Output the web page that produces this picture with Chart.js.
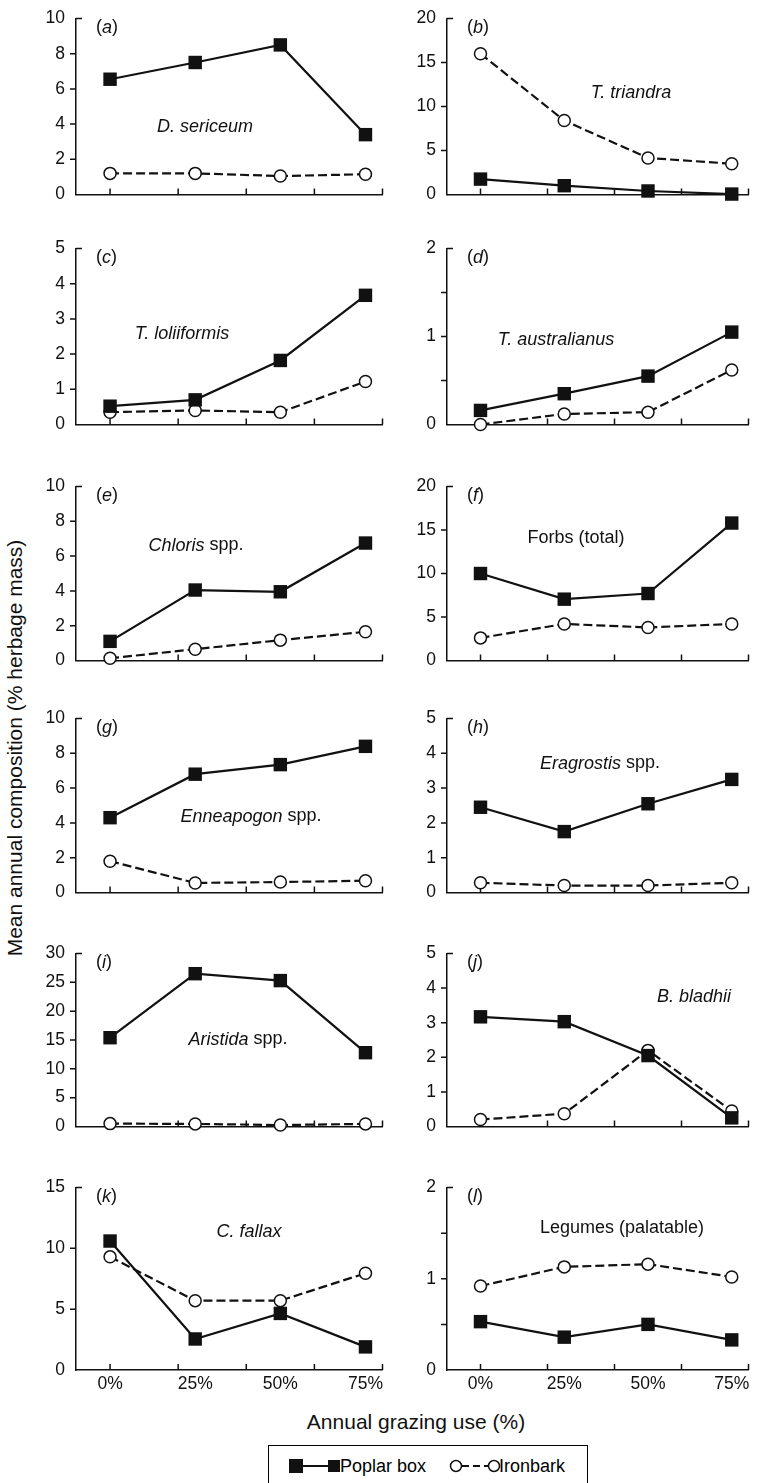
<!DOCTYPE html>
<html>
<head>
<meta charset="utf-8">
<script src="https://cdn.jsdelivr.net/npm/chart.js@4.4.0/dist/chart.umd.min.js"></script>
<style>
  body { margin: 0; background: #fff; font-family: 'Liberation Sans', Arial, sans-serif; color: #111; }
  #fig { position: relative; width: 758px; height: 1483px; overflow: hidden; }
  #fig canvas { position: absolute; }
  .ytitle { position: absolute; left: 15px; top: 748px; transform: translate(-50%, -50%) rotate(-90deg); white-space: nowrap; font-size: 21px; }
  .xtitle { position: absolute; left: 416px; top: 1422px; transform: translate(-50%, -50%); white-space: nowrap; font-size: 21px; }
  .legend { position: absolute; left: 268px; top: 1445px; width: 318px; height: 37px; border: 1px solid #000; }
</style>
</head>
<body>
<div id="fig">
  <div class="ytitle">Mean annual composition (% herbage mass)</div>
  <div class="xtitle">Annual grazing use (%)</div>
  <div class="legend">
    <svg width="318" height="37">
      <line x1="27" y1="20" x2="65" y2="20" stroke="#111" stroke-width="2.2"/>
      <rect x="20" y="13" width="14" height="14" fill="#111"/>
      <rect x="59" y="14" width="12" height="12" fill="#111"/>
      <text x="71" y="20" font-size="18" dominant-baseline="central" font-family="Liberation Sans, Arial">Poplar box</text>
      <line x1="193" y1="20" x2="219" y2="20" stroke="#111" stroke-width="2.2" stroke-dasharray="7,4"/>
      <circle cx="187" cy="20" r="5.5" fill="#fff" stroke="#111" stroke-width="1.5"/>
      <circle cx="225" cy="20" r="5.5" fill="#fff" stroke="#111" stroke-width="1.5"/>
      <text x="230" y="20" font-size="18" dominant-baseline="central" font-family="Liberation Sans, Arial">Ironbark</text>
    </svg>
  </div>
</div>
<script>
// Grazing levels (x values) and tick labels
const grazing = [0, 25, 50, 75];
const grazingLabels = ['0%', '25%', '50%', '75%'];
const xTickMarks = [0, 20, 40, 60, 80];

// Poplar box series, one per panel
const poplarA = [6.55, 7.5, 8.5, 3.4];
const poplarB = [1.75, 1.0, 0.4, 0.05];
const poplarC = [0.52, 0.7, 1.82, 3.67];
const poplarD = [0.16, 0.35, 0.55, 1.05];
const poplarE = [1.1, 4.05, 3.95, 6.75];
const poplarF = [10, 7.05, 7.7, 15.8];
const poplarG = [4.3, 6.8, 7.35, 8.4];
const poplarH = [2.45, 1.75, 2.55, 3.25];
const poplarI = [15.4, 26.5, 25.3, 12.8];
const poplarJ = [3.17, 3.03, 2.05, 0.25];
const poplarK = [10.6, 2.55, 4.65, 1.9];
const poplarL = [0.53, 0.36, 0.5, 0.33];

// Ironbark series, one per panel
const ironbarkA = [1.2, 1.2, 1.05, 1.15];
const ironbarkB = [16, 8.4, 4.15, 3.5];
const ironbarkC = [0.35, 0.4, 0.35, 1.22];
const ironbarkD = [0.0, 0.12, 0.14, 0.62];
const ironbarkE = [0.13, 0.65, 1.17, 1.65];
const ironbarkF = [2.6, 4.2, 3.8, 4.2];
const ironbarkG = [1.8, 0.55, 0.6, 0.68];
const ironbarkH = [0.28, 0.2, 0.2, 0.28];
const ironbarkI = [0.5, 0.45, 0.25, 0.45];
const ironbarkJ = [0.2, 0.37, 2.2, 0.45];
const ironbarkK = [9.3, 5.7, 5.7, 7.95];
const ironbarkL = [0.92, 1.13, 1.16, 1.02];

const poplar = [poplarA, poplarB, poplarC, poplarD, poplarE, poplarF, poplarG, poplarH, poplarI, poplarJ, poplarK, poplarL];
const ironbark = [ironbarkA, ironbarkB, ironbarkC, ironbarkD, ironbarkE, ironbarkF, ironbarkG, ironbarkH, ironbarkI, ironbarkJ, ironbarkK, ironbarkL];

// Y axis ranges
const yMax = [10, 20, 5, 2, 10, 20, 10, 5, 30, 5, 15, 2];
const yStep = [2, 5, 1, 0.5, 2, 5, 2, 1, 5, 1, 5, 0.5];

// Panel letters and species names ([text, italic])
const letters = ['a', 'b', 'c', 'd', 'e', 'f', 'g', 'h', 'i', 'j', 'k', 'l'];
const species = [
    [['D. sericeum', true]],
    [['T. triandra', true]],
    [['T. loliiformis', true]],
    [['T. australianus', true]],
    [['Chloris', true], [' spp.', false]],
    [['Forbs (total)', false]],
    [['Enneapogon', true], [' spp.', false]],
    [['Eragrostis', true], [' spp.', false]],
    [['Aristida', true], [' spp.', false]],
    [['B. bladhii', true]],
    [['C. fallax', true]],
    [['Legumes (palatable)', false]]
];

// Layout: chart area rows (top, bottom) and species label offsets
const rows = [[15, 202], [245, 432], [483, 668], [715, 900], [950, 1134], [1184, 1370]];
const labelOffsets = [[129, 108], [184, 74], [106, 85], [109, 91], [120, 59], [129, 52],
    [175, 98], [153, 45], [162, 86], [247, 43], [173, 44], [175, 41]];

const FONT = '"Liberation Sans", Arial, sans-serif';

function drawParts(ctx, parts, cx, cy) {
    let total = 0;
    parts.forEach(p => {
        ctx.font = (p[1] ? 'italic ' : '') + '18px ' + FONT;
        total += ctx.measureText(p[0]).width;
    });
    let x = cx - total / 2;
    parts.forEach(p => {
        ctx.font = (p[1] ? 'italic ' : '') + '18px ' + FONT;
        ctx.fillText(p[0], x, cy);
        x += ctx.measureText(p[0]).width;
    });
}

// Tick marks (inside on x, outside on y) and panel texts
const decor = {
    id: 'decor',
    beforeDatasetsDraw(chart, args, opts) {
        const { ctx, chartArea } = chart;
        const x = chart.scales.x, y = chart.scales.y;
        ctx.save();
        ctx.strokeStyle = '#111';
        ctx.lineWidth = 1.5;
        ctx.beginPath();
        xTickMarks.forEach(v => {
            const px = x.getPixelForValue(v);
            ctx.moveTo(px, chartArea.bottom);
            ctx.lineTo(px, chartArea.bottom - 6);
        });
        y.ticks.forEach(t => {
            if (t.value === 0) return;
            const py = y.getPixelForValue(t.value);
            if (t.value === y.max) {
                ctx.moveTo(chartArea.left, py);
                ctx.lineTo(chartArea.left + 6, py);
            } else {
                ctx.moveTo(chartArea.left - 6, py);
                ctx.lineTo(chartArea.left, py);
            }
        });
        ctx.stroke();

        ctx.fillStyle = '#111';
        ctx.textBaseline = 'middle';
        ctx.textAlign = 'left';
        // panel letter like (a)
        let lx = chartArea.left + 20, ly = chartArea.top + 9;
        [['(', false], [opts.letter, true], [')', false]].forEach(p => {
            ctx.font = (p[1] ? 'italic ' : '') + '18px ' + FONT;
            ctx.fillText(p[0], lx, ly);
            lx += ctx.measureText(p[0]).width;
        });
        drawParts(ctx, opts.species, chartArea.left + opts.off[0], chartArea.top + opts.off[1]);
        ctx.restore();
    }
};

const fig = document.getElementById('fig');

letters.forEach((letter, i) => {
    const col = i % 2;
    const row = Math.floor(i / 2);
    const bottomRow = row === rows.length - 1;
    const [top, bottom] = rows[row];
    const canvasLeft = col === 0 ? 0 : 378;
    const canvasWidth = col === 0 ? 392 : 380;
    const yAxisWidth = col === 0 ? 76 : 69;
    const padRight = col === 0 ? 9 : 1;
    const xAxisHeight = bottomRow ? 30 : 0;
    const padBottom = 8;
    const canvasTop = top - 12;
    const canvasHeight = (bottom - top) + 12 + xAxisHeight + padBottom;

    const canvas = document.createElement('canvas');
    canvas.width = canvasWidth;
    canvas.height = canvasHeight;
    canvas.style.left = canvasLeft + 'px';
    canvas.style.top = canvasTop + 'px';
    fig.appendChild(canvas);

    new Chart(canvas.getContext('2d'), {
        type: 'line',
        data: {
            datasets: [{
                label: 'Poplar box',
                data: grazing.map((g, k) => ({ x: g, y: poplar[i][k] })),
                borderColor: '#111',
                backgroundColor: '#111',
                borderWidth: 2.2,
                pointStyle: 'rect',
                pointRadius: 9.5,
                pointBorderWidth: 0,
                pointBackgroundColor: '#111',
                tension: 0,
                clip: false
            }, {
                label: 'Ironbark',
                data: grazing.map((g, k) => ({ x: g, y: ironbark[i][k] })),
                borderColor: '#111',
                borderWidth: 2.2,
                borderDash: [9, 4],
                pointStyle: 'circle',
                pointRadius: 6,
                pointBorderWidth: 1.5,
                pointBorderColor: '#111',
                pointBackgroundColor: '#fff',
                tension: 0,
                clip: false
            }]
        },
        options: {
            responsive: false,
            animation: false,
            layout: { padding: { top: 12, right: padRight, bottom: padBottom, left: 0 } },
            plugins: {
                legend: { display: false },
                tooltip: { enabled: false },
                decor: { letter: letter, species: species[i], off: labelOffsets[i] }
            },
            scales: {
                x: {
                    type: 'linear',
                    min: -10,
                    max: 80,
                    afterBuildTicks: scale => { scale.ticks = grazing.map(v => ({ value: v })); },
                    afterFit: scale => { scale.height = xAxisHeight; },
                    grid: { display: false, drawTicks: false },
                    border: { display: true, color: '#111', width: 1.5 },
                    ticks: {
                        display: bottomRow,
                        padding: 4,
                        color: '#111',
                        font: { family: FONT, size: 17.5 },
                        maxRotation: 0,
                        callback: (v) => grazingLabels[grazing.indexOf(v)]
                    }
                },
                y: {
                    min: 0,
                    max: yMax[i],
                    afterFit: scale => { scale.width = yAxisWidth; },
                    grid: { display: false, drawTicks: true, tickLength: 6 },
                    border: { display: true, color: '#111', width: 1.5 },
                    ticks: {
                        stepSize: yStep[i],
                        padding: 5,
                        color: '#111',
                        font: { family: FONT, size: 17.5 },
                        callback: (v) => (v % 1 === 0 ? v : '')
                    }
                }
            }
        },
        plugins: [decor]
    });
});
</script>
</body>
</html>
